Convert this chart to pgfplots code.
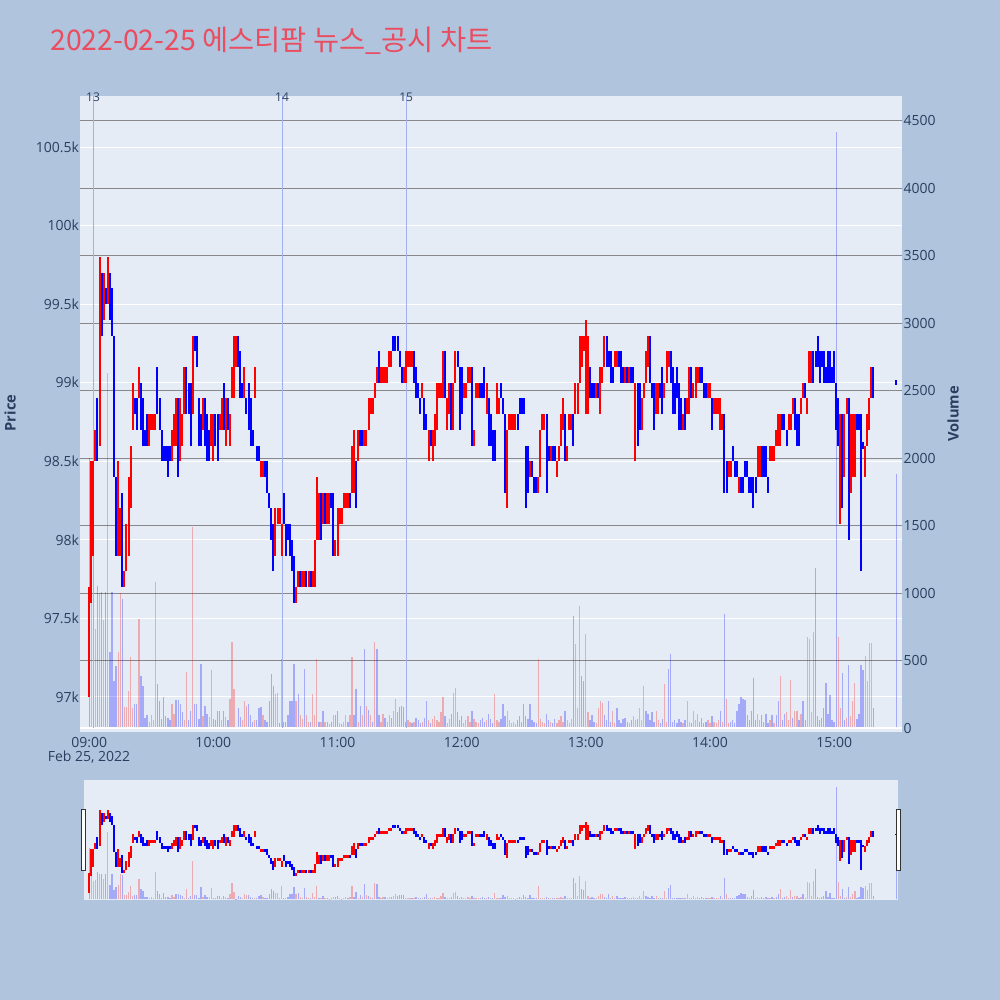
\documentclass[border=0pt]{standalone}
\usepackage{pgfplots}
\pgfplotsset{compat=1.18}
\usepackage{pgfplotstable}
\usepackage{fontspec}
\setmainfont{Open Sans}
\newfontfamily\kr{Noto Sans CJK KR}
\definecolor{bgout}{RGB}{176,196,222}
\definecolor{bgplot}{RGB}{229,236,246}
\definecolor{tickc}{RGB}{42,63,95}
\definecolor{titlec}{RGB}{234,76,96}
\definecolor{vgrid}{RGB}{135,135,140}
\definecolor{newsc}{RGB}{160,176,240}

% red (rising) candles: minute, low, range
\pgfplotstableread[row sep=\\]{m lo d\\
0 97000 700\\1 97600 900\\2 97900 600\\3 98500 200\\5 98600 1200\\7 99400 300\\9 99500 300\\14 97900 600\\15 97900 300\\17 97700 100\\
18 97800 300\\19 97900 500\\20 98200 400\\21 98700 300\\24 98900 200\\29 98600 200\\30 98700 100\\31 98700 100\\32 98700 100\\40 98500 200\\
41 98600 200\\42 98600 300\\44 98500 400\\45 98600 200\\46 98800 300\\50 98800 500\\55 98700 200\\59 98600 200\\60 98500 300\\63 98700 100\\
64 98700 200\\66 98600 300\\68 98600 200\\69 98900 200\\70 98900 400\\71 99100 200\\75 98900 200\\80 98900 200\\83 98400 100\\84 98400 100\\
90 97900 300\\91 98100 100\\92 98100 100\\93 97900 200\\100 97600 100\\101 97700 100\\103 97700 100\\104 97700 100\\106 97700 100\\108 97700 100\\
109 97700 300\\110 98000 400\\111 98000 300\\113 98100 200\\115 98100 200\\116 98100 200\\119 97900 100\\120 97900 300\\121 98100 100\\122 98100 100\\
123 98200 100\\124 98200 100\\125 98200 100\\127 98300 300\\128 98300 400\\130 98500 200\\133 98600 100\\134 98600 100\\135 98700 200\\136 98800 100\\
137 98800 100\\138 98900 100\\139 99000 100\\141 99000 100\\142 99000 100\\143 99000 100\\144 99000 100\\145 99100 100\\146 99100 100\\152 99000 100\\
153 99000 200\\154 99100 100\\155 99100 100\\156 99100 100\\161 98900 100\\164 98500 200\\166 98500 200\\167 98600 200\\168 98700 300\\169 98900 100\\
170 98900 100\\171 98900 300\\173 98700 200\\174 98800 200\\176 98700 300\\177 99000 200\\181 98900 100\\182 98900 100\\183 99000 100\\184 99000 100\\
186 98600 100\\187 98900 100\\188 98900 100\\192 98800 200\\197 98800 200\\198 98800 100\\202 98200 500\\203 98700 100\\204 98700 100\\205 98700 100\\
206 98700 100\\213 98400 100\\217 98300 100\\218 98400 300\\219 98700 100\\220 98700 100\\223 98500 100\\226 98400 100\\227 98500 100\\228 98600 200\\
229 98700 200\\231 98500 100\\232 98700 100\\233 98700 100\\235 98800 200\\236 98800 200\\237 99000 300\\238 99100 200\\239 99200 100\\240 98800 600\\
241 98800 500\\245 98900 100\\247 98800 300\\248 99000 100\\249 99100 200\\254 99100 100\\255 99100 100\\259 99000 100\\261 99000 100\\264 98500 500\\
267 98700 200\\268 98900 100\\269 99000 200\\270 99100 200\\274 98800 200\\275 98800 200\\278 98900 100\\279 99000 200\\280 99100 100\\287 98700 100\\
289 98800 100\\290 98800 300\\292 98900 100\\293 98900 200\\294 99000 100\\299 98900 100\\300 98900 100\\302 98800 100\\303 98800 100\\304 98800 100\\
305 98700 200\\306 98700 100\\309 98400 100\\310 98400 100\\314 98300 100\\323 98400 200\\324 98400 200\\329 98500 100\\330 98500 100\\331 98500 100\\
332 98600 100\\333 98600 200\\334 98600 200\\338 98700 100\\339 98700 100\\340 98800 100\\344 98800 100\\345 98900 100\\347 98800 100\\348 99000 200\\
349 99000 200\\363 98100 700\\365 98400 400\\366 98800 100\\368 98300 500\\369 98400 400\\370 98400 400\\375 98400 200\\376 98600 200\\377 98700 200\\
378 98900 200\\
}\rc

% blue (falling) candles: minute, low, range
\pgfplotstableread[row sep=\\]{m lo d\\
4 98500 400\\6 99300 400\\8 99500 100\\10 99400 300\\11 99300 300\\12 98400 900\\13 97900 500\\16 97700 600\\22 98800 100\\23 98700 200\\
25 98700 300\\26 98600 300\\27 98600 100\\28 98600 200\\33 98800 300\\34 98700 200\\35 98500 200\\36 98500 100\\37 98500 100\\38 98400 200\\
39 98500 100\\43 98400 500\\47 98800 300\\48 98800 200\\49 98600 400\\51 99200 100\\52 99100 200\\53 98600 300\\54 98600 200\\56 98600 300\\
57 98500 300\\58 98500 200\\61 98600 200\\62 98500 300\\65 98700 300\\67 98700 200\\72 99100 200\\73 98900 300\\74 98900 100\\76 98800 100\\
77 98700 300\\78 98600 300\\79 98600 100\\81 98500 100\\82 98500 100\\85 98400 100\\86 98300 200\\87 98200 100\\88 98000 200\\89 97800 300\\
94 98100 200\\95 97900 200\\96 98000 100\\97 97900 200\\98 97800 200\\99 97600 300\\102 97700 100\\105 97700 100\\107 97700 100\\112 98000 300\\
114 98100 200\\117 98200 100\\118 97900 400\\126 98200 100\\129 98200 300\\131 98600 100\\132 98600 100\\140 99000 200\\147 99200 100\\148 99200 100\\
149 99200 100\\150 99100 100\\151 99000 100\\157 99000 200\\158 98900 200\\159 98900 100\\160 98800 100\\162 98700 200\\163 98700 100\\165 98600 100\\
172 98900 300\\175 98700 300\\178 99100 100\\179 98700 400\\180 98800 300\\185 98600 500\\189 98900 100\\190 98900 100\\191 98900 200\\193 98600 300\\
194 98600 200\\195 98500 200\\196 98500 200\\199 98900 100\\200 98800 100\\201 98300 500\\207 98700 100\\208 98800 100\\209 98800 100\\210 98800 100\\
211 98200 400\\212 98300 300\\214 98400 100\\215 98300 100\\216 98300 100\\221 98300 500\\222 98500 100\\224 98500 100\\225 98500 100\\230 98500 300\\
234 98600 200\\242 98900 200\\243 98900 100\\244 98900 100\\246 98900 100\\250 99100 200\\251 99100 100\\252 99000 200\\253 99000 100\\256 99100 100\\
257 99000 200\\258 99000 100\\260 99000 100\\262 99000 100\\263 99000 100\\265 98600 400\\266 98700 300\\271 99000 300\\272 98900 100\\273 98700 300\\
276 98900 100\\277 98800 300\\281 99000 200\\282 98800 300\\283 98800 200\\284 98900 200\\285 98700 300\\286 98700 200\\288 98700 200\\291 98900 200\\
295 99000 100\\296 99000 100\\297 98900 100\\298 98900 100\\301 98700 200\\307 98300 500\\308 98300 200\\311 98500 100\\312 98400 100\\313 98400 100\\
315 98300 100\\316 98300 100\\317 98400 100\\318 98400 100\\319 98300 100\\320 98300 100\\321 98200 200\\322 98300 100\\325 98400 200\\326 98400 200\\
327 98400 200\\328 98300 100\\335 98700 100\\336 98700 100\\337 98600 100\\341 98700 200\\342 98600 200\\343 98600 200\\346 98900 100\\350 99000 200\\
351 99100 100\\352 99100 200\\353 99000 200\\354 99100 100\\355 99000 200\\356 99000 100\\357 99000 200\\358 99000 200\\359 99000 100\\360 99000 200\\
361 98700 300\\362 98600 300\\364 98200 600\\367 98000 900\\371 98700 100\\372 98700 100\\373 97800 1000\\374 98580 40\\379 98900 200\\390 98985 30\\
}\bc

% volume, red
\pgfplotstableread[row sep=\\]{m v\\
1 1050\\2 700\\3 740\\5 1000\\7 800\\9 2630\\14 565\\15 1000\\17 158\\18 158\\19 281\\20 528\\21 150\\24 810\\29 50\\30 100\\31 60\\32 1083\\
40 183\\41 110\\46 60\\47 420\\50 1490\\55 95\\58 85\\59 430\\64 60\\66 85\\68 220\\69 640\\70 295\\74 60\\75 200\\76 170\\80 60\\84 100\\
90 256\\91 260\\93 513\\100 200\\102 100\\103 70\\105 100\\106 50\\108 256\\109 100\\110 516\\112 50\\114 50\\116 30\\118 100\\121 40\\
123 50\\124 100\\126 100\\127 528\\130 50\\132 100\\134 170\\136 100\\138 640\\141 50\\142 110\\144 50\\145 100\\147 130\\148 220\\154 60\\
155 50\\157 50\\161 50\\164 60\\166 70\\167 90\\168 60\\169 50\\170 120\\171 230\\173 40\\174 70\\176 260\\177 300\\181 40\\182 60\\183 90\\
184 50\\186 70\\187 50\\188 40\\192 60\\196 256\\197 60\\198 50\\202 130\\203 60\\204 40\\205 50\\206 30\\217 513\\218 70\\219 50\\220 40\\
223 50\\226 40\\227 60\\228 90\\229 50\\231 60\\232 40\\233 70\\235 625\\236 150\\237 910\\240 700\\241 120\\245 40\\246 150\\247 200\\248 190\\
253 130\\254 40\\261 40\\263 90\\264 60\\266 150\\267 60\\268 318\\274 130\\275 60\\278 330\\279 50\\287 40\\289 205\\290 50\\292 130\\293 60\\
294 110\\299 60\\300 40\\302 50\\303 40\\304 60\\306 50\\308 220\\309 40\\323 110\\324 60\\329 60\\331 40\\334 386\\337 120\\338 60\\339 360\\
341 130\\342 130\\344 110\\347 675\\348 660\\349 120\\350 717\\362 675\\363 150\\366 80\\368 90\\369 200\\370 340\\375 533\\376 350\\377 631\\378 631\\
}\rv

% volume, blue
\pgfplotstableread[row sep=\\]{m v\\
0 2000\\4 1058\\6 1010\\8 1010\\10 565\\11 1010\\12 355\\13 466\\16 960\\22 183\\23 183\\25 392\\26 318\\27 80\\28 100\\33 330\\34 207\\35 70\\
36 232\\37 90\\38 80\\39 60\\42 212\\43 212\\44 183\\45 120\\48 60\\49 130\\51 183\\52 183\\53 70\\54 478\\56 170\\57 110\\60 70\\61 60\\
62 130\\63 130\\65 130\\67 60\\71 10\\72 150\\73 85\\77 183\\78 100\\79 50\\81 60\\82 150\\83 160\\85 60\\86 50\\87 200\\88 400\\89 318\\
92 40\\94 50\\95 50\\96 100\\97 200\\98 200\\99 478\\101 256\\104 440\\107 50\\111 50\\113 130\\115 50\\117 50\\119 100\\120 130\\122 30\\125 50\\
128 100\\129 295\\131 170\\133 587\\135 140\\137 50\\139 587\\140 100\\143 75\\146 75\\149 120\\150 160\\151 170\\152 160\\153 50\\156 40\\158 75\\159 60\\
160 40\\162 80\\163 200\\165 40\\172 90\\175 110\\178 120\\179 60\\180 90\\185 130\\189 60\\190 80\\191 50\\193 110\\194 70\\195 40\\199 70\\200 180\\
201 90\\207 60\\208 90\\209 50\\210 180\\211 90\\212 70\\213 180\\214 60\\215 50\\216 40\\221 110\\222 60\\224 40\\225 70\\230 130\\234 836\\238 390\\
239 350\\242 60\\243 100\\244 50\\249 100\\250 60\\251 200\\252 50\\255 150\\256 60\\257 40\\258 70\\259 80\\260 50\\262 60\\265 70\\269 130\\270 110\\
271 60\\272 120\\273 50\\276 40\\277 70\\280 440\\281 550\\282 50\\283 60\\284 40\\285 70\\286 50\\288 60\\291 40\\295 50\\296 80\\297 40\\298 50\\
301 90\\305 130\\307 851\\310 50\\311 60\\312 40\\313 130\\314 180\\315 230\\316 220\\317 210\\318 100\\319 60\\320 130\\321 372\\322 60\\325 100\\326 50\\
327 110\\328 40\\330 100\\332 100\\333 200\\335 60\\336 110\\340 80\\343 60\\345 200\\346 60\\351 1190\\352 90\\353 60\\354 80\\355 150\\356 340\\
357 110\\358 250\\359 60\\360 50\\361 4413\\364 414\\365 60\\367 473\\371 70\\372 110\\373 473\\374 430\\379 150\\390 1882\\
}\bv

\tikzset{tl/.style={font=\fontsize{10.5}{12}\selectfont, text=tickc}}
\pgfplotsset{
  base/.style={scale only axis, width=616.5pt, xmin=-4.45, xmax=392.8,
    scaled ticks=false,
    axis line style={draw=none}, major tick length=0pt, tick style={draw=none}},
  pax/.style={ymin=96777, ymax=100825},
  vax/.style={ymin=-25.9, ymax=4681.7},
}

\begin{document}
\begin{tikzpicture}
\useasboundingbox (0,0) rectangle (750pt,750pt);
\fill[bgout] (0,0) rectangle (750pt,750pt);
\node[anchor=base west, text=titlec, font=\kr\fontsize{21.3}{25}\selectfont, inner sep=0pt]
  at (37.5pt,712pt) {2022-02-25 에스티팜 뉴스\_공시 차트};

% ---------- main: price grid and background ----------
\begin{axis}[base, pax, at={(60pt,201pt)}, anchor=south west, height=477pt,
  axis background/.style={fill=bgplot},
  ytick={97000,97500,98000,98500,99000,99500,100000,100500},
  yticklabels={97k,97.5k,98k,98.5k,99k,99.5k,100k,100.5k},
  ymajorgrids, major grid style={white, line width=0.75pt},
  xtick={0,60,120,180,240,300,360},
  xticklabels={09:00,10:00,11:00,12:00,13:00,14:00,15:00},
  ticklabel style={tl},
  yticklabel style={anchor=east, inner sep=0pt, xshift=-0.6pt},
  xticklabel style={anchor=north, inner sep=0pt, yshift=-3.9pt}]
\end{axis}

% ---------- main: volume ----------
\begin{axis}[base, vax, at={(60pt,201pt)}, anchor=south west, height=477pt,
  xtick=\empty,
  ytick={0,500,1000,1500,2000,2500,3000,3500,4000,4500},
  yticklabels={0,500,1000,1500,2000,2500,3000,3500,4000,4500},
  yticklabel pos=right,
  ymajorgrids, major grid style={vgrid, line width=0.8pt},
  ticklabel style={tl},
  yticklabel style={anchor=west, inner sep=0pt, xshift=1pt}]
\addplot[ycomb, draw=red, opacity=0.28, line width=1pt] table[x=m,y=v]{\rv};
\addplot[ycomb, draw=blue, opacity=0.28, line width=1pt] table[x=m,y=v]{\bv};
\addplot[white, line width=1.5pt] coordinates {(-4.45,0) (392.8,0)};
\addplot[newsc, line width=0.75pt] coordinates {(1.84,0) (1.84,4681.7)};
\addplot[newsc, line width=0.75pt] coordinates {(93.2,0) (93.2,4681.7)};
\addplot[newsc, line width=0.75pt] coordinates {(153.2,0) (153.2,4681.7)};
\end{axis}

% ---------- main: candles ----------
\begin{axis}[base, pax, at={(60pt,201pt)}, anchor=south west, height=477pt,
  xtick=\empty, ytick=\empty, clip=false]
\addplot[draw=none, error bars/.cd, y dir=plus, y explicit, error mark=none,
  error bar style={draw=red, line width=1.5pt, solid}] table[x=m,y=lo,y error=d]{\rc};
\addplot[draw=none, error bars/.cd, y dir=plus, y explicit, error mark=none,
  error bar style={draw=blue, line width=1.5pt, solid}] table[x=m,y=lo,y error=d]{\bc};
\node[text=tickc, font=\fontsize{9}{10}\selectfont, inner sep=0pt] at (axis cs:1.84,100825) [yshift=-0.8pt] {13};
\node[text=tickc, font=\fontsize{9}{10}\selectfont, inner sep=0pt] at (axis cs:93.2,100825) [yshift=-0.8pt] {14};
\node[text=tickc, font=\fontsize{9}{10}\selectfont, inner sep=0pt] at (axis cs:153.2,100825) [yshift=-0.8pt] {15};
\end{axis}

\node[tl, inner sep=0pt] at (66.75pt,182.25pt) {Feb 25, 2022};
\node[text=tickc, font=\bfseries\fontsize{11}{12}\selectfont, rotate=90, inner sep=0pt] at (7.5pt,440.25pt) {Price};
\node[text=tickc, font=\bfseries\fontsize{11}{12}\selectfont, rotate=90, inner sep=0pt] at (714.75pt,439.5pt) {Volume};

% ---------- navigator ----------
\fill[bgplot] (63pt,75pt) rectangle (673.5pt,165pt);
\begin{axis}[base, vax, at={(60pt,75pt)}, anchor=south west, height=90pt,
  xtick=\empty, ytick=\empty]
\addplot[ycomb, draw=red, opacity=0.28, line width=1pt] table[x=m,y=v]{\rv};
\addplot[ycomb, draw=blue, opacity=0.28, line width=1pt] table[x=m,y=v]{\bv};
\end{axis}
\begin{axis}[base, pax, at={(60pt,75pt)}, anchor=south west, height=90pt,
  xtick=\empty, ytick=\empty]
\addplot[draw=none, error bars/.cd, y dir=plus, y explicit, error mark=none,
  error bar style={draw=red, line width=1.5pt, solid}] table[x=m,y=lo,y error=d]{\rc};
\addplot[draw=none, error bars/.cd, y dir=plus, y explicit, error mark=none,
  error bar style={draw=blue, line width=1.5pt, solid}] table[x=m,y=lo,y error=d]{\bc};
\end{axis}
\draw[fill=white, draw=black!80, line width=0.75pt] (61.2pt,96.75pt) rectangle (64.2pt,142.5pt);
\draw[fill=white, draw=black!80, line width=0.75pt] (672.3pt,96.75pt) rectangle (675.3pt,142.5pt);
\end{tikzpicture}
\end{document}
